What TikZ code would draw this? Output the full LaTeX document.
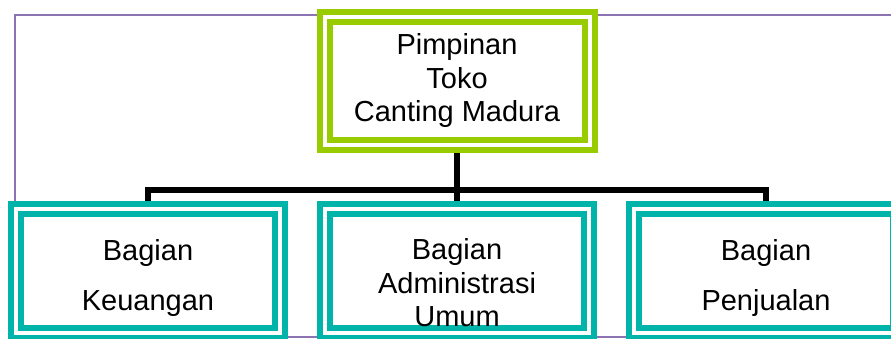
\documentclass[tikz,border=0pt]{standalone}
\usepackage{fontspec}
\setmainfont{Liberation Sans}
\usetikzlibrary{backgrounds}
\definecolor{limegreen}{RGB}{153,204,0}
\definecolor{aqua}{RGB}{0,180,170}
\definecolor{framepurple}{RGB}{140,115,180}
\tikzset{head/.style = {
    draw = limegreen, 
    double = white, 
    line width = 6pt, 
    double distance = 4pt, 
    fill = white, 
    minimum width = 265pt, 
    minimum height = 128pt, 
    align = center, 
    font = \fontsize{29}{33.5}\selectfont
}}
\tikzset{unit/.style = {
    draw = aqua, 
    double = white, 
    line width = 6pt, 
    double distance = 4pt, 
    fill = white, 
    minimum width = 264pt, 
    minimum height = 124pt
}}
\tikzset{unittext/.style = {
    align = center, 
    inner sep = 0pt, 
    font = \fontsize{29}{33.5}\selectfont
}}
\tikzset{link/.style = {
    line width = 6pt, 
    black
}}

\begin{document}
\begin{tikzpicture}[x = 1pt, y = -1pt]
    \clip 
        (0, 0) rectangle (891, 338)
    ;
    
    % Frame
    \draw 
        [framepurple, line width = 1.5pt] 
        (15, 15) rectangle (905, 337)
    ;
    
    % Boxes
    \node [head] (boss) at (457, 80.5) {Pimpinan\\Toko\\Canting Madura};
    \node [unit] (keu) at (148, 271) {};
    \node [unit] (adm) at (457, 271) {};
    \node [unit] (jual) at (766, 271) {};
    
    \node [unittext] (keutext) at (148, 277.5) {Bagian\\[16.5pt]Keuangan};
    \node [unittext] (admtext) at (457, 283) {Bagian\\Administrasi\\Umum};
    \node [unittext] (jualtext) at (766, 277.5) {Bagian\\[16.5pt]Penjualan};
    
    % Lines
    \begin{scope}[on background layer]
        \coordinate (bus) at (457, 190);
        \draw 
            [link] (boss.south) -- (bus)
        ;
        \draw 
            [link] (keu.north) |- (bus) -| (jual.north)
        ;
        \draw 
            [link] (bus) -- (adm.north)
        ;
    \end{scope}

\end{tikzpicture}
\end{document}
